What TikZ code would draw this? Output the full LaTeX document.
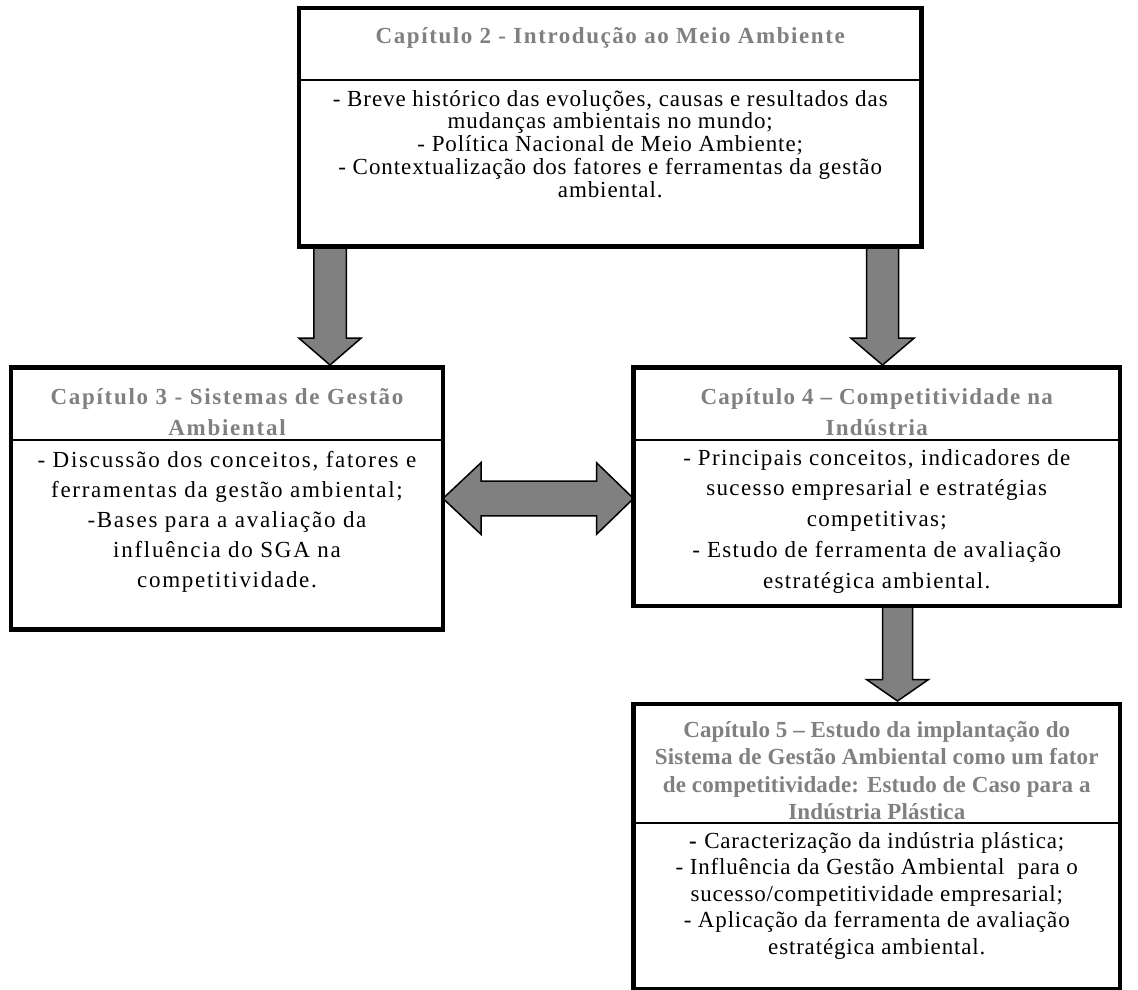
\documentclass[tikz,border=0pt]{standalone}
\usepackage{fontspec}
\setmainfont{Liberation Serif}
\usetikzlibrary{calc,backgrounds}
\definecolor{titlegray}{RGB}{128,128,128}
\definecolor{arrowgray}{RGB}{128,128,128}
\setlength{\lineskiplimit}{-100pt}
\newcommand\firstln{\rule{0pt}{22pt}}
% #1 start coordinate (top of shaft), #2 tip, #3 shaft half width, #4 head half width, #5 head length
\newcommand\blockdown[5]{%
  \draw[blockarrow] ($(#1)+(-#3,0)$) -- ($(#2)+(-#3,-#5)$) -- ($(#2)+(-#4,-#5)$) -- (#2)
    -- ($(#2)+(#4,-#5)$) -- ($(#2)+(#3,-#5)$) -- ($(#1)+(#3,0)$) -- cycle;}
\begin{document}
\begin{tikzpicture}[x=1pt,y=-1pt,
  chapbox/.style={draw=black, line width=4.5pt, fill=white, rectangle, inner sep=0pt, outer sep=0pt},
  divider/.style={line width=1.5pt},
  blockarrow/.style={draw=black, fill=arrowgray, line width=1.5pt, line join=miter},
  titletext/.style 2 args={font=\fontsize{23}{#1}\selectfont\bfseries\addfontfeatures{LetterSpace=#2}, text=titlegray, align=center, anchor=north, inner sep=0pt},
  bodytext/.style 2 args={font=\fontsize{23}{#1}\selectfont\addfontfeatures{LetterSpace=#2}, align=center, anchor=north, inner sep=0pt}]
\useasboundingbox (0,0) rectangle (1138,990);

% boxes
\node[chapbox, minimum width=622.5pt, minimum height=238.5pt] (c2) at (610.25,127.25) {};
\node[chapbox, minimum width=432pt, minimum height=262pt] (c3) at (227,498.5) {};
\node[chapbox, minimum width=486.5pt, minimum height=238.5pt] (c4) at (876.75,486.75) {};
\node[chapbox, minimum width=486.5pt, minimum height=285pt] (c5) at (876.75,846.5) {};

% dividers
\draw[divider] (c2.west |- 0,80) -- (c2.east |- 0,80);
\draw[divider] (c3.west |- 0,440) -- (c3.east |- 0,440);
\draw[divider] (c4.west |- 0,440) -- (c4.east |- 0,440);
\draw[divider] (c5.west |- 0,823) -- (c5.east |- 0,823);

% texts
\node[titletext={26}{6.8}] (t2) at (610.25,21) {\firstln Capítulo 2 - Introdução ao Meio Ambiente};
\node[bodytext={22.7}{4}] (b2) at (610.25,84) {\firstln - Breve histórico das evoluções, causas e resultados das\\
mudanças ambientais no mundo;\\
- Política Nacional de Meio Ambiente;\\
- Contextualização dos fatores e ferramentas da gestão\\
ambiental.};

\node[titletext={31}{7.5}] (t3) at (227,382) {\firstln Capítulo 3 - Sistemas de Gestão\\Ambiental};
\node[bodytext={30}{7.5}] (b3) at (227,445) {\firstln - Discussão dos conceitos, fatores e\\
ferramentas da gestão ambiental;\\
-Bases para a avaliação da\\
influência do SGA na\\
competitividade.};

\node[titletext={31}{5.5}] (t4) at (876.75,382) {\firstln Capítulo 4 – Competitividade na\\Indústria};
\node[bodytext={30.7}{5.8}] (b4) at (876.75,443) {\firstln - Principais conceitos, indicadores de\\
sucesso empresarial e estratégias\\
competitivas;\\
- Estudo de ferramenta de avaliação\\
estratégica ambiental.};

\node[titletext={27.4}{0.7}] (t5) at (876.75,715) {\firstln Capítulo 5 – Estudo da implantação do\\
Sistema de Gestão Ambiental como um fator\\
de competitividade: Estudo de Caso para a\\
Indústria Plástica};
\node[bodytext={26.5}{3.6}] (b5) at (876.75,826) {\firstln\textbf{-} Caracterização da indústria plástica;\\
- Influência da Gestão Ambiental\ \ para o\\
sucesso/competitividade empresarial;\\
- Aplicação da ferramenta de avaliação\\
estratégica ambiental.};

% connectors (block arrows)
\begin{pgfonlayer}{background}
\fill[white] (0,0) rectangle (1138,990);
\coordinate (a1) at ($(c2.south west)+(31,0)$);
\coordinate (a2) at ($(a1 |- c3.north)+(0,-2.5)$);
\blockdown{a1}{a2}{16.25}{31.25}{27}
\coordinate (b1) at ($(c2.south east)+(-39,0)$);
\coordinate (b2) at ($(b1 |- c4.north)+(0,-2.5)$);
\blockdown{b1}{b2}{16}{31.75}{27}
\coordinate (e1) at ($(c4.south west)+(264,0)$);
\coordinate (e2) at ($(e1 |- c5.north)+(0,-3)$);
\blockdown{e1}{e2}{15}{31}{21.5}
\coordinate (d1) at (c3.east);
\coordinate (d2) at (c4.west |- c3.east);
\draw[blockarrow] (d1) -- ($(d1)+(38,-35.8)$) -- ($(d1)+(38,-17.3)$) -- ($(d2)+(-37,-17.3)$)
  -- ($(d2)+(-37,-35.8)$) -- (d2) -- ($(d2)+(-37,35.8)$) -- ($(d2)+(-37,17.3)$)
  -- ($(d1)+(38,17.3)$) -- ($(d1)+(38,35.8)$) -- cycle;
\end{pgfonlayer}
\end{tikzpicture}
\end{document}
